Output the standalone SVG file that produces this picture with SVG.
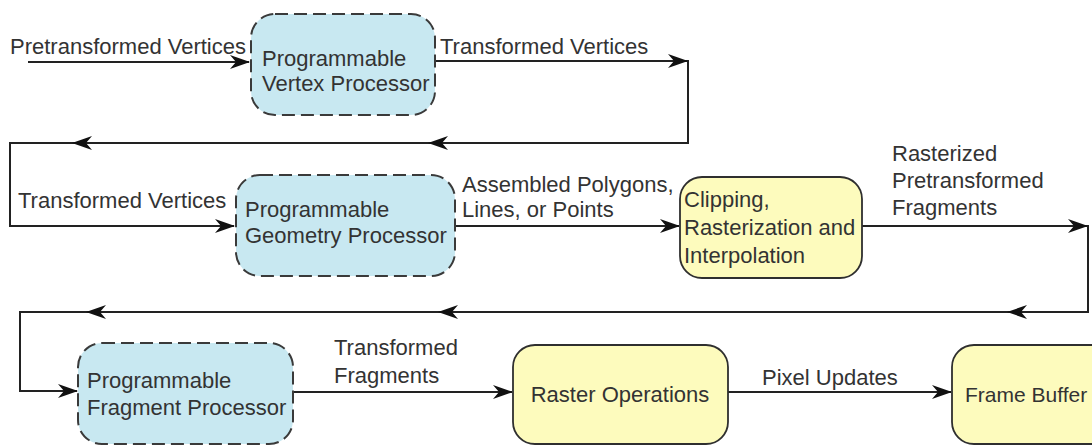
<svg xmlns="http://www.w3.org/2000/svg" xmlns:xlink="http://www.w3.org/1999/xlink" width="1092" height="446" viewBox="0 0 1092 446">
  <style>
    text { font-family: "Liberation Sans", Arial, sans-serif; font-size: 22px; fill: #333; }
    .prog { fill: #c8e8f1; stroke: #3a3a3a; stroke-width: 2; stroke-dasharray: 13 6; }
    .fixed { fill: #fdfbbd; stroke: #2f2f2f; stroke-width: 1.8; }
    .wire { fill: none; stroke: #222; stroke-width: 2; }
    .head { fill: #111; }
  </style>
  <defs>
    <!-- swept-back arrowhead, tip at origin pointing +x -->
    <path id="ah" class="head" d="M0,0 L-20,-7 L-14,0 L-20,7 Z"/>
  </defs>

  <rect width="1092" height="446" fill="#ffffff"/>

  <g id="connectors">
    <path class="wire" d="M28,62 H249"/>
    <path class="wire" d="M435,61 H688 V143 H10 V226 H234"/>
    <path class="wire" d="M455,226 H679"/>
    <path class="wire" d="M862,226 H1088 V312 H20 V391 H77"/>
    <path class="wire" d="M293,392 H512"/>
    <path class="wire" d="M728,392 H951"/>

    <use xlink:href="#ah" transform="translate(250,62)"/>
    <use xlink:href="#ah" transform="translate(688,61)"/>
    <use xlink:href="#ah" transform="translate(428,143) rotate(180)"/>
    <use xlink:href="#ah" transform="translate(72,143) rotate(180)"/>
    <use xlink:href="#ah" transform="translate(235,226)"/>
    <use xlink:href="#ah" transform="translate(680,226)"/>
    <use xlink:href="#ah" transform="translate(1088,226)"/>
    <use xlink:href="#ah" transform="translate(1007,312) rotate(180)"/>
    <use xlink:href="#ah" transform="translate(438,312) rotate(180)"/>
    <use xlink:href="#ah" transform="translate(86,312) rotate(180)"/>
    <use xlink:href="#ah" transform="translate(78,391)"/>
    <use xlink:href="#ah" transform="translate(513,392)"/>
    <use xlink:href="#ah" transform="translate(952,392)"/>

    <text x="10" y="54">Pretransformed Vertices</text>
    <text x="440" y="54">Transformed Vertices</text>
    <text x="18" y="208">Transformed Vertices</text>
    <text x="462" y="192">Assembled Polygons,</text>
    <text x="462" y="217">Lines, or Points</text>
    <text x="892" y="161">Rasterized</text>
    <text x="892" y="188">Pretransformed</text>
    <text x="892" y="215">Fragments</text>
    <text x="334" y="355">Transformed</text>
    <text x="334" y="383">Fragments</text>
    <text x="762" y="385">Pixel Updates</text>
  </g>

  <g id="vertex-processor">
    <rect class="prog" x="251" y="14" width="184" height="101" rx="24"/>
    <text x="262" y="66">Programmable</text>
    <text x="262" y="91">Vertex Processor</text>
  </g>

  <g id="geometry-processor">
    <rect class="prog" x="236" y="175" width="219" height="101" rx="24"/>
    <text x="245" y="217">Programmable</text>
    <text x="245" y="243">Geometry Processor</text>
  </g>

  <g id="clipping-rasterization">
    <rect class="fixed" x="680" y="177" width="182" height="101" rx="22"/>
    <text x="684" y="207">Clipping,</text>
    <text x="684" y="235">Rasterization and</text>
    <text x="684" y="263">Interpolation</text>
  </g>

  <g id="fragment-processor">
    <rect class="prog" x="78" y="343" width="215" height="101" rx="24"/>
    <text x="87" y="388">Programmable</text>
    <text x="87" y="415">Fragment Processor</text>
  </g>

  <g id="raster-operations">
    <rect class="fixed" x="513" y="345" width="215" height="99" rx="22"/>
    <text x="620" y="402" text-anchor="middle">Raster Operations</text>
  </g>

  <g id="frame-buffer">
    <rect class="fixed" x="952" y="345" width="170" height="99" rx="22"/>
    <text x="965" y="402" style="font-size:21px">Frame Buffer</text>
  </g>
</svg>
